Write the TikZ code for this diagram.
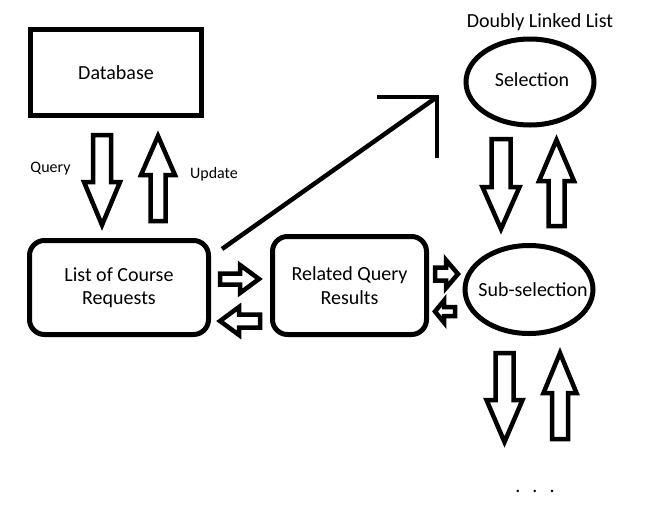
\documentclass[tikz,border=0pt]{standalone}
\usepackage{fontspec}
\setmainfont{Carlito}
\usetikzlibrary{shapes.geometric}
% vertical block arrow: cx, y tail, y tip, shaft half width, head half width, y shoulder
\newcommand{\varrowpath}[6]{\draw[blockarrow] (#1-#4,#2) -- (#1+#4,#2) -- (#1+#4,#6) -- (#1+#5,#6) -- (#1,#3) -- (#1-#5,#6) -- (#1-#4,#6) -- cycle;}
% horizontal block arrow: cy, x tail, x tip, shaft half width, head half width, x shoulder
\newcommand{\harrowpath}[6]{\draw[blockarrow] (#2,#1-#4) -- (#2,#1+#4) -- (#6,#1+#4) -- (#6,#1+#5) -- (#3,#1) -- (#6,#1-#5) -- (#6,#1-#4) -- cycle;}
\begin{document}
\begin{tikzpicture}[x=1pt,y=-1pt,
  every node/.style={font=\fontsize{20}{23.5}\selectfont, inner sep=0pt, outer sep=0pt},
  smalltxt/.style={font=\fontsize{16}{19}\selectfont},
  boxnode/.style={draw, line width=5pt, rectangle},
  roundbox/.style={draw, line width=5pt, rectangle, rounded corners=15pt, align=center},
  ovalnode/.style={draw, line width=5pt, ellipse},
  blockarrow/.style={draw, line width=4.5pt, line join=miter, miter limit=3},
  thinline/.style={line width=4.5pt}]
\useasboundingbox (0,0) rectangle (656,520);

\node[boxnode, minimum width=171pt, minimum height=86pt] (db) at (116,72.5) {Database};
\node[roundbox, minimum width=179pt, minimum height=94pt] (list) at (119,287.5) {List of Course\\Requests};
\node[roundbox, minimum width=154pt, minimum height=98pt] (rel) at (349.5,285.5) {Related Query\\Results};
\node[ovalnode, minimum width=128pt, minimum height=86pt] (sel) at (530,82) {};
\node (seltxt) at (532,80) {Selection};
\node[ovalnode, minimum width=128pt, minimum height=88pt] (sub) at (529,289.5) {};
\node (subtxt) at (533,290) {Sub-selection};
\node (dll) at (540,22) {Doubly Linked List};
\node[smalltxt] (q) at (50.5,169) {Query};
\node[smalltxt] (u) at (214,174) {Update};
\node (dots) at (535,491) {.\kern 12pt.\kern 12pt.};

% block arrows
\varrowpath{102}{135}{225}{9}{18}{182}
\varrowpath{158}{221}{136}{7.5}{17}{175}
\varrowpath{501}{139}{229}{9.5}{18.5}{187}
\varrowpath{556.5}{226}{140}{8}{17.5}{181}
\varrowpath{504.5}{353}{442}{9}{18}{400}
\varrowpath{560}{439}{353}{8}{16.5}{393}
\harrowpath{279}{220}{259}{5.5}{14}{240}
\harrowpath{321}{260}{220}{6.5}{14}{239}
\harrowpath{274}{435}{458}{6.5}{14}{446}
\harrowpath{311.5}{455}{435}{4.5}{11}{444}

% big line arrow
\coordinate (s) at (222,249);
\coordinate (t) at (437,97);
\coordinate (hl) at (377,97);
\coordinate (hv) at (437,158);
\draw[thinline] (s) -- (t);
\draw[thinline, line join=miter] (hl) -- (t) -- (hv);
\end{tikzpicture}
\end{document}
